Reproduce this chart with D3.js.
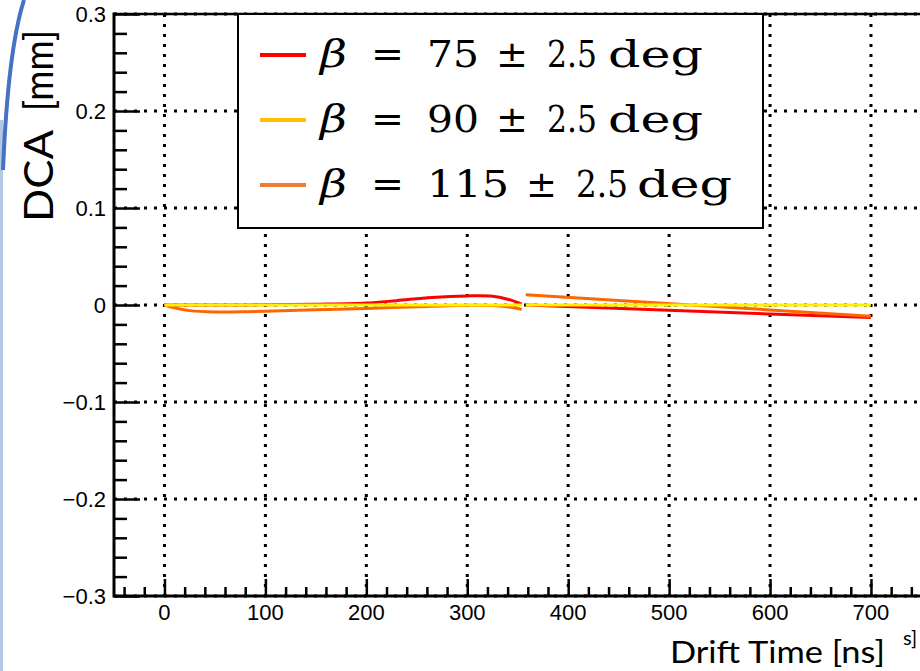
<!DOCTYPE html>
<html>
<head>
<meta charset="utf-8">
<script src="https://cdn.jsdelivr.net/npm/d3@7"></script>
<style>
  body { margin: 0; background: #fff; }
  svg { display: block; }
</style>
</head>
<body>
<div id="chart"></div>
<script>
// DCA vs drift time for three track angles
var xTicks = [0, 100, 200, 300, 400, 500, 600, 700, 800];
var yTicks = [-0.3, -0.2, -0.1, 0, 0.1, 0.2, 0.3];

// first branch (t < 355 ns)
var timeRed1 = [0, 25, 50, 100, 150, 200, 230, 265, 300, 325, 340, 354];
var dcaRed1 = [0, 0, 0, 0.0002, 0.0008, 0.002, 0.0045, 0.0078, 0.0094, 0.0091, 0.006, 0.001];
var timeOrange1 = [0, 10, 25, 50, 75, 100, 150, 200, 250, 300, 325, 340, 354];
var dcaOrange1 = [0, -0.003, -0.0058, -0.0072, -0.007, -0.0065, -0.005, -0.0036, -0.0018, -0.0002, -0.0004, -0.0018, -0.0045];
var timeYellow1 = [0, 354];
var dcaYellow1 = [0, 0];

// second branch (t > 355 ns)
var time2 = [358, 700];
var dcaRed2 = [0, -0.013];
var dcaOrange2 = [0.0105, -0.0115];
var dcaYellow2 = [0, 0];

var legendLabels = ["75", "90", "115"];
var legendColors = ["#ff0000", "#ffc000", "#ed7d31"];

var svgWidth = 920;
var svgHeight = 671;

var svg = d3.select("#chart").append("svg")
  .attr("width", svgWidth)
  .attr("height", svgHeight);

// slide decoration on the left edge
svg.append("line")
  .attr("x1", 1.5).attr("x2", 1.5)
  .attr("y1", 120).attr("y2", svgHeight)
  .attr("stroke", "#b4c7e7")
  .attr("stroke-width", 3);
svg.append("path")
  .attr("d", "M24,0 Q8,50 3,170")
  .attr("fill", "none")
  .attr("stroke", "#4472c4")
  .attr("stroke-width", 4);

var padLeft = 114, padTop = 14, padBottom = 596;

var x = d3.scaleLinear().domain([-50, 850]).range([padLeft, padLeft + 900 * 1.0093]);
var y = d3.scaleLinear().domain([-0.3, 0.3]).range([padBottom, padTop]);

var plot = svg.append("g");

// dotted grid
plot.selectAll(".gx")
  .data(xTicks)
  .enter()
  .append("line")
  .attr("x1", d => x(d)).attr("x2", d => x(d))
  .attr("y1", padTop).attr("y2", padBottom)
  .attr("stroke", "#000")
  .attr("stroke-width", 3)
  .attr("stroke-dasharray", "3 7");

plot.selectAll(".gy")
  .data(yTicks)
  .enter()
  .append("line")
  .attr("x1", padLeft).attr("x2", svgWidth)
  .attr("y1", d => y(d)).attr("y2", d => y(d))
  .attr("stroke", "#000")
  .attr("stroke-width", 3)
  .attr("stroke-dasharray", "3 7");

// curves
var line = d3.line()
  .x(d => x(d[0]))
  .y(d => y(d[1]))
  .curve(d3.curveCatmullRom);

function drawCurve(times, vals, color) {
  plot.append("path")
    .datum(d3.zip(times, vals))
    .attr("d", line)
    .attr("fill", "none")
    .attr("stroke", color)
    .attr("stroke-width", 3);
}

drawCurve(timeRed1, dcaRed1, "#ff0000");
drawCurve(time2, dcaRed2, "#ff0000");
drawCurve(timeOrange1, dcaOrange1, "#ff6600");
drawCurve(time2, dcaOrange2, "#ff6600");
drawCurve(timeYellow1, dcaYellow1, "#ffef00");
drawCurve(time2, dcaYellow2, "#ffef00");

// axes
var bottomAxis = d3.axisBottom(x)
  .tickValues(d3.range(-40, 860, 20))
  .tickSize(0)
  .tickFormat("");
var xAxis = svg.append("g")
  .attr("transform", `translate(0, ${padBottom})`)
  .call(bottomAxis);
xAxis.select(".domain").remove();
xAxis.selectAll(".tick line")
  .attr("stroke", "#000")
  .attr("stroke-width", 2.5)
  .attr("y2", d => (d % 100 === 0 ? -17 : -9));

var leftAxis = d3.axisLeft(y)
  .tickValues(d3.range(-15, 16).map(d => d * 0.02))
  .tickSize(0)
  .tickFormat("");
var yAxis = svg.append("g")
  .attr("transform", `translate(${padLeft}, 0)`)
  .call(leftAxis);
yAxis.select(".domain").remove();
yAxis.selectAll(".tick line")
  .attr("stroke", "#000")
  .attr("stroke-width", 2.5)
  .attr("x2", (d, i) => (i % 5 === 0 ? 26 : 13));

// frame
svg.append("line")
  .attr("x1", padLeft).attr("x2", svgWidth)
  .attr("y1", padBottom).attr("y2", padBottom)
  .attr("stroke", "#000").attr("stroke-width", 3);
svg.append("line")
  .attr("x1", padLeft).attr("x2", svgWidth)
  .attr("y1", padTop).attr("y2", padTop)
  .attr("stroke", "#000").attr("stroke-width", 2.5);
svg.append("line")
  .attr("x1", padLeft).attr("x2", padLeft)
  .attr("y1", padTop - 1.5).attr("y2", padBottom + 1.5)
  .attr("stroke", "#000").attr("stroke-width", 3);

// tick labels
var fmt = d => (d === 0 ? "0" : d3.format(".1f")(d).replace("-", "\u2212"));
svg.selectAll(".ylab")
  .data(yTicks)
  .enter()
  .append("text")
  .attr("x", 106)
  .attr("y", d => y(d) + 7.5)
  .attr("text-anchor", "end")
  .attr("font-family", "Liberation Sans, Arial, sans-serif")
  .attr("font-size", "22px")
  .text(fmt);

svg.selectAll(".xlab")
  .data(xTicks.filter(d => d <= 700))
  .enter()
  .append("text")
  .attr("x", d => x(d))
  .attr("y", 620)
  .attr("text-anchor", "middle")
  .attr("font-family", "Liberation Sans, Arial, sans-serif")
  .attr("font-size", "22px")
  .text(d => d);

// axis titles
svg.append("text")
  .attr("transform", "translate(53, 222) rotate(-90)")
  .attr("font-family", "Lato, sans-serif")
  .attr("font-size", "40px")
  .attr("textLength", 92)
  .attr("lengthAdjust", "spacingAndGlyphs")
  .text("DCA");
svg.append("text")
  .attr("transform", "translate(53, 111) rotate(-90)")
  .attr("font-family", "Lato, sans-serif")
  .attr("font-size", "40px")
  .attr("textLength", 81)
  .attr("lengthAdjust", "spacingAndGlyphs")
  .text("[mm]");

svg.append("text")
  .attr("x", 670)
  .attr("y", 663)
  .attr("font-family", "Lato, sans-serif")
  .attr("font-size", "31px")
  .attr("textLength", 215)
  .attr("lengthAdjust", "spacingAndGlyphs")
  .text("Drift Time [ns]");

svg.append("text")
  .attr("x", 903)
  .attr("y", 645)
  .attr("font-family", "Lato, sans-serif")
  .attr("font-size", "20px")
  .text("s]");

// legend
var legend = svg.append("g");
legend.append("rect")
  .attr("x", 238).attr("y", 14)
  .attr("width", 525).attr("height", 214)
  .attr("fill", "#fff")
  .attr("stroke", "#000")
  .attr("stroke-width", 2);

var rowY = [55, 120, 185];
// pieces of each entry: [text, start x, end x, italic]
function legendPieces(lab) {
  var wide = lab.length === 3;
  return [
    ["\u03b2", 320, 347, true],
    ["=", 371, 404, false],
    [lab, 427, wide ? 509 : 479, false],
    ["\u00b1", wide ? 526 : 496, wide ? 557 : 528, false],
    ["2.5", wide ? 576 : 547, wide ? 628 : 597, false],
    ["deg", wide ? 637 : 608, wide ? 732 : 703, false]
  ];
}
legendLabels.forEach(function(lab, i) {
  legend.append("line")
    .attr("x1", 260).attr("x2", 306)
    .attr("y1", rowY[i]).attr("y2", rowY[i])
    .attr("stroke", legendColors[i])
    .attr("stroke-width", 4);
  legendPieces(lab).forEach(function(p) {
    legend.append("text")
      .attr("x", p[1])
      .attr("y", rowY[i] + 12)
      .attr("font-family", "DejaVu Serif, serif")
      .attr("font-size", "38px")
      .attr("font-style", p[3] ? "italic" : "normal")
      .attr("textLength", p[2] - p[1])
      .attr("lengthAdjust", "spacingAndGlyphs")
      .text(p[0]);
  });
});
</script>
</body>
</html>
